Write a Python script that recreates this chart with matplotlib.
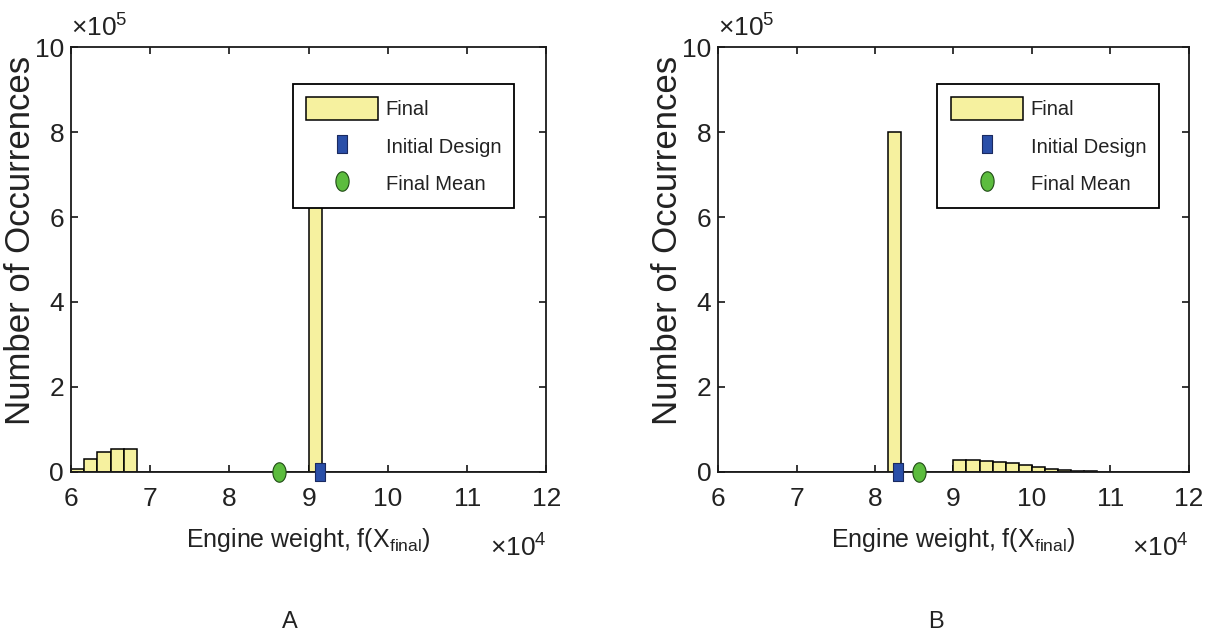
import matplotlib
matplotlib.use("Agg")
import matplotlib.pyplot as plt
import numpy as np
from matplotlib.lines import Line2D
from matplotlib.patches import Patch
from matplotlib.path import Path
from matplotlib.ticker import FixedLocator, FuncFormatter

plt.rcParams["font.family"] = ["Liberation Sans", "DejaVu Sans"]
plt.rcParams["mathtext.fontset"] = "custom"
plt.rcParams["mathtext.rm"] = "Liberation Sans"
plt.rcParams["mathtext.it"] = "Liberation Sans"

# histogram bins: 36 bins of width 1/6 x 10^4 between 6e4 and 12e4
BIN_EDGES = np.linspace(6e4, 12e4, 37)

# counts per bin
COUNTS_A = [7000, 30000, 47000, 55000, 53000, 0, 0, 0, 0, 0, 0, 0,
            0, 0, 0, 0, 0, 0, 808000, 0, 0, 0, 0, 0,
            0, 0, 0, 0, 0, 0, 0, 0, 0, 0, 0, 0]
COUNTS_B = [0, 0, 0, 0, 0, 0, 0, 0, 0, 0, 0, 0,
            0, 800000, 0, 0, 0, 0, 29000, 27500, 26000, 24000, 20000, 17000,
            12500, 8000, 5500, 3000, 1000, 500, 0, 0, 0, 0, 0, 0]

INITIAL_A = 91400
MEAN_A = 86200
INITIAL_B = 82900
MEAN_B = 85600

PANELS = ["A", "B"]

BAR_COLOR = "#f6f19f"
BLUE = "#2a4fa8"
GREEN = "#5cbc3e"
TEXT = "#222222"

# tall-narrow marker shapes (MATLAB output was squeezed horizontally)
_t = np.linspace(0, 2 * np.pi, 60)
ELLIPSE = Path(np.column_stack([0.68 * np.cos(_t), np.sin(_t)]), closed=True)
RECT = Path([(-0.62, -1), (0.62, -1), (0.62, 1), (-0.62, 1), (-0.62, -1)], closed=True)


def _panel(ax, counts, initial, mean):
    ax.bar(BIN_EDGES[:-1], counts, width=np.diff(BIN_EDGES), align="edge",
           color=BAR_COLOR, edgecolor="black", linewidth=1.1, zorder=2)
    ax.plot([initial], [0], linestyle="none", marker=RECT, markersize=12.5,
            markerfacecolor=BLUE, markeredgecolor="#1a2a60", markeredgewidth=0.8,
            clip_on=False, zorder=4)
    ax.plot([mean], [0], linestyle="none", marker=ELLIPSE, markersize=14,
            markerfacecolor=GREEN, markeredgecolor="#1f4a15", markeredgewidth=0.8,
            clip_on=False, zorder=4)

    ax.set_xlim(6e4, 12e4)
    ax.set_ylim(0, 1e6)
    ax.xaxis.set_major_locator(FixedLocator(np.arange(6e4, 12.1e4, 1e4)))
    ax.yaxis.set_major_locator(FixedLocator(np.arange(0, 1.01e6, 2e5)))
    ax.xaxis.set_major_formatter(FuncFormatter(lambda v, p: f"{v / 1e4:g}"))
    ax.yaxis.set_major_formatter(FuncFormatter(lambda v, p: f"{v / 1e5:g}"))
    ax.tick_params(direction="in", length=5, width=1.1, top=True, right=True,
                   labelsize=19, labelcolor=TEXT)
    ax.tick_params(axis="x", pad=11)
    ax.tick_params(axis="y", pad=5)
    for s in ax.spines.values():
        s.set_linewidth(1.3)
        s.set_color("#1a1a1a")

    ax.set_xlabel(r"Engine weight, f(X$_{\mathrm{final}}$)", fontsize=18,
                  labelpad=11, color=TEXT)
    ax.set_ylabel("Number of Occurrences", fontsize=25, color=TEXT)
    ax.yaxis.set_label_coords(-0.072, 0.546)
    ax.text(0.0, 1.012, r"$\times 10^{5}$", transform=ax.transAxes,
            fontsize=19, ha="left", va="bottom", color=TEXT)
    ax.text(1.0, -0.179, r"$\times 10^{4}$", transform=ax.transAxes,
            fontsize=19, ha="right", va="center", color=TEXT)

    handles = [
        Patch(facecolor=BAR_COLOR, edgecolor="black", linewidth=1.1),
        Line2D([], [], linestyle="none", marker=RECT, markersize=12.5,
               markerfacecolor=BLUE, markeredgecolor="#1a2a60", markeredgewidth=0.8),
        Line2D([], [], linestyle="none", marker=ELLIPSE, markersize=14,
               markerfacecolor=GREEN, markeredgecolor="#1f4a15", markeredgewidth=0.8),
    ]
    leg = ax.legend(handles, ["Final", "Initial Design", "Final Mean"],
                    loc="upper left", bbox_to_anchor=(0.466, 0.913),
                    fontsize=14.5, handlelength=3.58, handleheight=1.4,
                    labelspacing=0.7, borderpad=0.65, handletextpad=0.4,
                    fancybox=False, framealpha=1, edgecolor="black",
                    borderaxespad=0)
    leg.get_frame().set_linewidth(1.3)
    for t in leg.get_texts():
        t.set_color(TEXT)
    leg.set_zorder(5)


fig = plt.figure(figsize=(12.13, 6.36), dpi=100)
ax_a = fig.add_axes([0.0585, 0.258, 0.392, 0.668])
ax_b = fig.add_axes([0.592, 0.258, 0.388, 0.668])

_panel(ax_a, COUNTS_A, INITIAL_A, MEAN_A)
_panel(ax_b, COUNTS_B, INITIAL_B, MEAN_B)

fig.text(0.239, 0.022, PANELS[0], fontsize=17, ha="center", va="center", color=TEXT)
fig.text(0.772, 0.022, PANELS[1], fontsize=17, ha="center", va="center", color=TEXT)

fig.savefig("out.png", dpi=100)
